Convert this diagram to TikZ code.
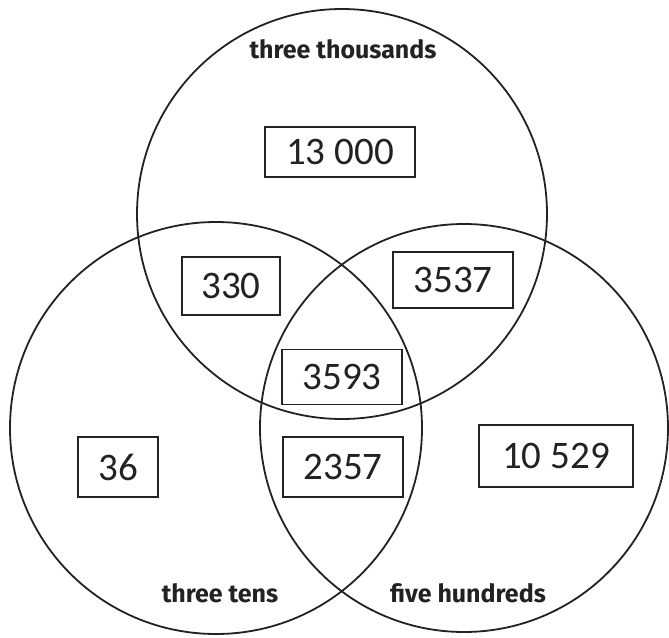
\documentclass[tikz,border=0pt]{standalone}
\usepackage{fontspec}
\setmainfont{Carlito}
\newfontfamily\labelfont{Fira Sans}
\usetikzlibrary{positioning}
\definecolor{InkGray}{RGB}{34,34,34}

\begin{document}
\begin{tikzpicture}[x=1pt,y=-1pt,
    ring/.style={draw=InkGray, line width=1.8pt},
    numbox/.style={draw=InkGray, line width=1.8pt, font=\fontsize{39}{42}\selectfont, text=InkGray, inner sep=0pt},
    setlabel/.style={font=\labelfont\bfseries\fontsize{25}{28}\selectfont, text=InkGray}]
  \useasboundingbox (0,0) rectangle (669,637);
  % the three sets
  \draw[ring] (342,214) circle (205);
  \draw[ring] (216,428) circle (206);
  \draw[ring] (464,428) circle (204);
  \node[setlabel] (thousands) at (343,49) {three thousands};
  \node[setlabel] (tens) at (220,593) {three tens};
  \node[setlabel] (hundreds) at (468,593) {five hundreds};
  % numbers
  \node[numbox, minimum width=150, minimum height=50] (n13000) at (340,152) {13 000};
  \node[numbox, minimum width=98, minimum height=58] (n330) at (231,286) {330};
  \node[numbox, minimum width=120, minimum height=56] (n3537) at (453,280) {3537};
  \node[numbox, minimum width=120, minimum height=55] (n3593) at (342,377) {3593};
  \node[numbox, minimum width=80, minimum height=60] (n36) at (118,467) {36};
  \node[numbox, minimum width=120, minimum height=60] (n2357) at (343,467) {2357};
  \node[numbox, minimum width=154, minimum height=62] (n10529) at (556,456) {10 529};
\end{tikzpicture}
\end{document}
